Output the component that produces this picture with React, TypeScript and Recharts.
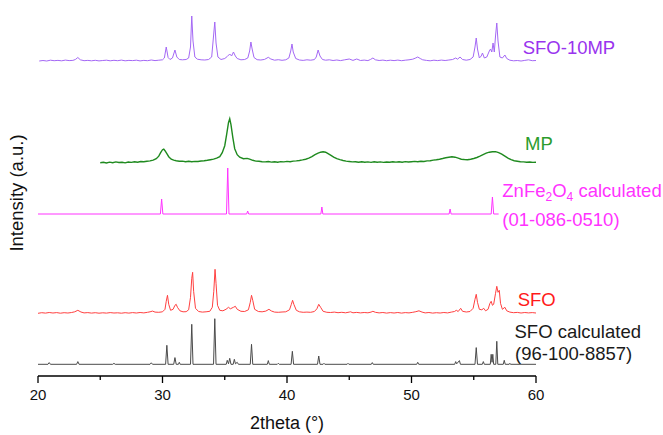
import React from "react";
import { LineChart, Line, XAxis, YAxis } from "recharts";

// 2theta (deg) vs. intensity above each pattern's own baseline (a.u.)
const sfo10mp: [number, number][] = [
  [20.1, 0], [20.4, 0.5], [20.7, 0], [21.0, 0.8], [21.3, 0.3], [21.6, 0.6], [21.9, 0.2], [22.2, 0.9],
  [22.5, 0.4], [22.8, 0.6], [23.0, 1.5], [23.2, 3.5], [23.4, 1.2], [23.7, 0.3], [24.0, 0.6], [24.3, 0.2],
  [24.6, 0.7], [24.9, 0.1], [25.2, 0.5], [25.5, 0.8], [25.8, 0.2], [26.1, 0.7], [26.4, 0.3], [26.7, 0.9],
  [27.0, 0.2], [27.3, 0.6], [27.6, 0.4], [27.9, 0.8], [28.2, 0.1], [28.5, 0.6], [28.8, 0.3], [29.1, 1.0],
  [29.4, 0.4], [29.7, 0.8], [30.0, 1.2], [30.15, 3], [30.3, 14], [30.45, 3.5], [30.6, 1.5], [30.8, 3],
  [31.0, 11], [31.15, 4], [31.35, 1.5], [31.6, 1.2], [31.9, 1.5], [32.1, 3], [32.25, 14], [32.35, 45],
  [32.45, 20], [32.6, 4], [32.8, 1.8], [33.1, 1.2], [33.4, 1.0], [33.7, 1.5], [33.95, 4], [34.1, 25],
  [34.2, 39], [34.3, 18], [34.45, 4], [34.7, 1.5], [35.0, 2.5], [35.2, 4.5], [35.4, 7], [35.55, 5],
  [35.7, 9], [35.85, 5], [36.0, 2.5], [36.3, 1.2], [36.6, 1.5], [36.85, 3], [37.0, 10], [37.1, 19],
  [37.2, 12], [37.35, 3.5], [37.6, 1.3], [37.9, 1.0], [38.2, 1.6], [38.5, 3.7], [38.7, 2], [39.0, 0.8],
  [39.3, 1.3], [39.6, 0.7], [39.9, 1.2], [40.15, 3], [40.3, 10], [40.4, 17], [40.5, 9], [40.7, 2.5],
  [41.0, 1.0], [41.3, 0.6], [41.6, 1.2], [41.9, 0.8], [42.2, 1.4], [42.35, 4], [42.5, 11], [42.65, 5],
  [42.85, 1.5], [43.1, 0.8], [43.4, 1.2], [43.7, 0.5], [44.0, 1.0], [44.3, 0.4], [44.6, 1.1], [45.0, 2],
  [45.3, 0.6], [45.6, 2], [45.9, 0.5], [46.2, 0.9], [46.5, 0.4], [46.7, 1.5], [46.9, 3], [47.1, 1.2],
  [47.4, 0.5], [47.7, 0.9], [48.0, 0.3], [48.3, 0.8], [48.6, 0.4], [48.9, 0.9], [49.2, 0.3], [49.5, 0.8],
  [49.8, 1.2], [50.1, 1.8], [50.3, 2.8], [50.5, 4], [50.7, 2.5], [50.9, 1.2], [51.2, 0.6], [51.5, 0.2],
  [51.8, 0.8], [52.1, 0.4], [52.4, 0.9], [52.7, 0.5], [53.0, 1.0], [53.3, 1.5], [53.55, 3], [53.7, 1.8],
  [53.9, 4], [54.1, 1.5], [54.4, 0.8], [54.7, 1.5], [54.95, 4], [55.1, 14], [55.2, 23], [55.3, 12],
  [55.45, 3], [55.6, 5], [55.7, 8], [55.85, 3], [56.05, 4], [56.25, 10], [56.35, 12], [56.45, 9],
  [56.55, 18], [56.65, 9], [56.75, 25], [56.85, 38], [56.95, 20], [57.1, 4], [57.3, 3], [57.5, 6],
  [57.65, 2.5], [57.9, 0.8], [58.2, 0.2], [58.5, 0.5], [58.8, 0], [59.1, 0.6], [59.4, 1.2], [59.7, 0.3],
  [60.0, 0.5],
];

const mp: [number, number][] = [
  [25.0, 0], [25.25, 0.5], [25.5, -0.3], [25.75, 0.6], [26.0, 0], [26.25, 0.8], [26.5, 0.2], [26.75, 0.5],
  [27.0, -0.2], [27.25, 0.7], [27.5, 0.3], [27.75, 1.0], [28.0, 0.5], [28.25, 1.2], [28.5, 0.9], [28.75, 1.5],
  [29.0, 1.8], [29.25, 2.6], [29.5, 4], [29.7, 6.5], [29.85, 10], [30.0, 13], [30.1, 13.5], [30.2, 12],
  [30.35, 9], [30.5, 6], [30.7, 3.5], [30.9, 2.5], [31.1, 2], [31.35, 1.5], [31.6, 1.6], [31.85, 1.0],
  [32.1, 1.4], [32.35, 0.9], [32.6, 1.3], [32.85, 1.2], [33.1, 1.7], [33.35, 1.9], [33.6, 2.4], [33.85, 3],
  [34.1, 3.6], [34.35, 4.5], [34.6, 6], [34.8, 10], [35.0, 17], [35.15, 28], [35.3, 40], [35.4, 44],
  [35.5, 38], [35.65, 25], [35.8, 14], [36.0, 8], [36.2, 5.5], [36.5, 4], [36.8, 4.3], [37.0, 3.5],
  [37.25, 2.4], [37.5, 1.6], [37.75, 1.5], [38.0, 1.0], [38.25, 0.8], [38.5, 1.2], [38.75, 0.6], [39.0, 1.0],
  [39.25, 0.5], [39.5, 1.1], [39.75, 0.8], [40.0, 1.3], [40.25, 1.0], [40.5, 1.6], [40.75, 1.8], [41.0, 2.2],
  [41.25, 2.8], [41.5, 3.5], [41.75, 4.5], [42.0, 6], [42.25, 8], [42.5, 9.5], [42.7, 10.5], [42.9, 11],
  [43.1, 10.5], [43.3, 9], [43.5, 7.5], [43.75, 5.5], [44.0, 4], [44.25, 3], [44.5, 2.2], [44.75, 1.6],
  [45.0, 1.2], [45.25, 0.8], [45.5, 1.0], [45.75, 0.5], [46.0, 0.9], [46.25, 0.4], [46.5, 0.8], [46.75, 0.3],
  [47.0, 0.9], [47.25, 0.5], [47.5, 0.8], [47.75, 0.3], [48.0, 0.7], [48.25, 0.4], [48.5, 1.0], [48.75, 0.6],
  [49.0, 0.9], [49.25, 0.5], [49.5, 1.1], [49.75, 0.7], [50.0, 1.0], [50.25, 1.3], [50.5, 1.0], [50.75, 1.4],
  [51.0, 1.2], [51.25, 1.8], [51.5, 2.0], [51.75, 2.6], [52.0, 3], [52.25, 3.5], [52.5, 4.2], [52.75, 5],
  [53.0, 5.5], [53.25, 6], [53.5, 5.5], [53.75, 4.5], [54.0, 3.5], [54.25, 3.2], [54.5, 3], [54.75, 3.5],
  [55.0, 4.2], [55.25, 5.2], [55.5, 6.5], [55.75, 8], [56.0, 9.5], [56.25, 10.5], [56.5, 11], [56.75, 11],
  [57.0, 10], [57.25, 8.5], [57.5, 6.5], [57.75, 4.5], [58.0, 3], [58.25, 2], [58.5, 1.5], [58.75, 1.0],
  [59.0, 0.8], [59.25, 0.5], [59.5, 0.7], [59.75, 0.3], [60.0, 0.5],
];

const znfe2o4Calc: [number, number][] = [
  [20.0, 0], [29.83, 0], [29.93, 15], [30.03, 0], [35.14, 0], [35.24, 46], [35.34, 0], [36.76, 0],
  [36.84, 3], [36.92, 0], [42.72, 0], [42.8, 7], [42.88, 0], [53.02, 0], [53.1, 5], [53.18, 0],
  [56.4, 0], [56.5, 17], [56.6, 0], [57.0, 0],
];

const sfo: [number, number][] = [
  [20.0, 0], [20.3, 0.6], [20.6, 0.2], [20.9, 0.8], [21.2, 0.3], [21.5, 0.7], [21.8, 0.1], [22.1, 0.6],
  [22.4, 0.3], [22.7, 0.8], [22.95, 1.5], [23.2, 3], [23.45, 1.3], [23.7, 0.4], [24.0, 0.7], [24.3, 0.2],
  [24.6, 0.6], [24.9, 0.1], [25.2, 0.5], [25.5, 0.2], [25.8, 0.7], [26.1, 0.3], [26.4, 0.5], [26.7, 0.1],
  [27.0, 0.6], [27.3, 0.2], [27.6, 0.7], [27.9, 0.3], [28.2, 0.8], [28.5, 0.4], [28.8, 1.0], [29.0, 1.5],
  [29.2, 2.2], [29.4, 1.2], [29.7, 1.0], [30.0, 1.5], [30.2, 4], [30.3, 12], [30.4, 18], [30.5, 9],
  [30.65, 3], [30.85, 4], [31.0, 8], [31.1, 9], [31.2, 6], [31.4, 2.5], [31.65, 1.5], [31.9, 1.6],
  [32.1, 3.5], [32.25, 16], [32.35, 35], [32.42, 41], [32.5, 22], [32.65, 5], [32.9, 1.8], [33.2, 1.2],
  [33.5, 1.5], [33.8, 2], [34.0, 6], [34.12, 22], [34.22, 44], [34.3, 30], [34.42, 8], [34.6, 3],
  [34.85, 2.5], [35.1, 4], [35.3, 6], [35.45, 4.5], [35.7, 6], [35.85, 7], [36.0, 4], [36.3, 2],
  [36.6, 1.8], [36.9, 3.5], [37.05, 11], [37.15, 18], [37.25, 13], [37.4, 4], [37.7, 1.8], [38.0, 1.5],
  [38.3, 2.2], [38.55, 4], [38.75, 2.3], [39.0, 1.2], [39.3, 1.0], [39.6, 1.3], [39.9, 1.5], [40.2, 3.5],
  [40.35, 9], [40.45, 13], [40.55, 9], [40.75, 3], [41.0, 1.5], [41.3, 1.0], [41.6, 1.2], [41.9, 1.0],
  [42.2, 1.8], [42.4, 4.5], [42.55, 9], [42.7, 6], [42.9, 2], [43.2, 1.0], [43.5, 0.8], [43.8, 1.2],
  [44.1, 0.6], [44.4, 1.0], [44.7, 0.5], [45.0, 1.2], [45.1, 1.5], [45.3, 0.5], [45.6, 0.9], [45.9, 0.4],
  [46.2, 0.8], [46.5, 0.5], [46.75, 1.2], [46.9, 2], [47.1, 1.0], [47.4, 0.4], [47.7, 0.8], [48.0, 0.2],
  [48.3, 0.7], [48.6, 0.3], [48.9, 0.8], [49.2, 0.2], [49.5, 0.7], [49.8, 0.4], [50.1, 1.0], [50.35, 1.6],
  [50.6, 2.5], [50.85, 1.2], [51.1, 0.4], [51.4, 0.8], [51.7, 0.2], [52.0, 0.6], [52.3, 0.3], [52.6, 0.8],
  [52.9, 0.4], [53.2, 1.2], [53.45, 1.8], [53.6, 3], [53.75, 1.8], [53.95, 5], [54.1, 2], [54.4, 1.3],
  [54.7, 1.8], [54.95, 5], [55.1, 14], [55.2, 19], [55.3, 11], [55.45, 4], [55.65, 3.5], [55.8, 5],
  [55.95, 2.5], [56.15, 4], [56.3, 10], [56.4, 12], [56.5, 8], [56.6, 9], [56.75, 20], [56.85, 27],
  [56.95, 21], [57.05, 23], [57.15, 10], [57.3, 4], [57.5, 6], [57.65, 2.5], [57.9, 1.2], [58.2, 0.6],
  [58.5, 0.9], [58.8, 0.3], [59.1, 0.8], [59.4, 0.4], [59.7, 0.7], [60.0, 0.3],
];

const sfoCalc: [number, number][] = [
  [20.0, 0], [20.8, 0], [20.9, 1.7], [21.0, 0], [23.1, 0], [23.2, 2.7], [23.3, 0], [26.0, 0],
  [26.1, 1], [26.2, 0], [29.0, 0], [29.1, 1.5], [29.2, 0], [30.25, 0], [30.35, 19], [30.45, 0],
  [30.9, 0], [31.0, 6.7], [31.1, 0], [31.28, 0], [31.35, 2], [31.42, 0], [32.25, 0], [32.35, 40],
  [32.45, 0], [34.1, 0], [34.2, 45.6], [34.3, 0], [35.12, 0], [35.2, 4], [35.3, 0.5], [35.4, 6],
  [35.5, 0], [35.68, 0], [35.77, 5], [35.86, 0.5], [36.0, 2], [36.1, 0], [37.05, 0], [37.15, 20],
  [37.25, 0], [38.42, 0], [38.5, 3.7], [38.58, 0], [39.22, 0], [39.3, 1], [39.38, 0], [40.33, 0],
  [40.43, 13], [40.53, 0], [42.45, 0], [42.55, 8.3], [42.65, 0], [42.9, 0], [42.97, 1], [43.04, 0],
  [44.83, 0], [44.9, 1], [44.97, 0], [46.77, 0], [46.85, 1.7], [46.93, 0], [50.42, 0], [50.5, 2],
  [50.58, 0], [53.47, 0], [53.55, 2.7], [53.63, 0.5], [53.85, 3.7], [53.93, 0], [55.1, 0], [55.2, 16.7],
  [55.3, 0], [55.69, 0], [55.77, 2.7], [55.85, 0], [56.33, 0], [56.4, 10], [56.47, 2], [56.53, 10],
  [56.6, 0], [56.77, 0], [56.85, 23], [56.93, 0], [57.37, 0], [57.45, 4], [57.53, 0], [57.85, 0],
  [57.9, 1], [57.95, 0], [60.0, 0],
];

const xTicks = [20, 25, 30, 35, 40, 45, 50, 55, 60];

// vertical offsets used to stack the patterns
const OFFSET_SFO_CALC = 11.7;
const OFFSET_SFO = 62.7;
const OFFSET_ZNFE = 162;
const OFFSET_MP = 213.3;
const OFFSET_SFO10MP = 315;

const FONT = "'Liberation Sans', Arial, sans-serif";

const stack = (pts: [number, number][], offset: number) =>
  pts.map(([x, y]) => ({ x, y: y + offset }));

const XTick = (props: any) => {
  const { x, y, payload } = props;
  const axisY = y - 13;
  const major = payload.value % 10 === 0;
  return (
    <g>
      <line x1={x} x2={x} y1={axisY} y2={axisY + (major ? 7 : 4)} stroke="#000" strokeWidth={1.3} />
      {major && (
        <text x={x} y={y} dy="0.71em" textAnchor="middle" fontSize={15} fontFamily={FONT} fill="#111">
          {payload.value}
        </text>
      )}
    </g>
  );
};

export default function App() {
  const series = [
    { key: "sfoCalc", data: stack(sfoCalc, OFFSET_SFO_CALC), color: "#4a4a4a", width: 1 },
    { key: "sfo", data: stack(sfo, OFFSET_SFO), color: "#ff4040", width: 1 },
    { key: "znfe", data: stack(znfe2o4Calc, OFFSET_ZNFE), color: "#ff33ff", width: 1 },
    { key: "mp", data: stack(mp, OFFSET_MP), color: "#1f8a1f", width: 1.4 },
    { key: "sfo10mp", data: stack(sfo10mp, OFFSET_SFO10MP), color: "#a468f5", width: 1 },
  ];

  const labelStyle = { fontFamily: FONT, fontSize: 18.5 };

  return (
    <div style={{ position: "absolute", left: 0, top: 0, width: 663, height: 435, background: "#fff" }}>
      <LineChart width={663} height={435} margin={{ top: 9, right: 127, left: 38, bottom: 29 }}>
        <XAxis
          type="number"
          dataKey="x"
          domain={[20, 60]}
          ticks={xTicks}
          allowDataOverflow
          axisLine={{ stroke: "#000", strokeWidth: 1.3 }}
          tickLine={false}
          tickSize={7}
          tickMargin={6}
          height={30}
          tick={<XTick />}
        />
        <YAxis
          type="number"
          dataKey="y"
          domain={[0, 367]}
          allowDataOverflow
          width={0}
          tick={false}
          tickLine={false}
          axisLine={{ stroke: "#000", strokeWidth: 1.3 }}
        />
        {series.map((s) => (
          <Line
            key={s.key}
            data={s.data}
            dataKey="y"
            type="linear"
            stroke={s.color}
            strokeWidth={s.width}
            dot={false}
            activeDot={false}
            isAnimationActive={false}
          />
        ))}
      </LineChart>
      <svg
        width={663}
        height={435}
        style={{ position: "absolute", left: 0, top: 0, pointerEvents: "none" }}
      >
        <text x={287} y={429} textAnchor="middle" fontSize={18} fontFamily={FONT} fill="#111">
          2theta (°)
        </text>
        <text
          x={22.7}
          y={193}
          transform="rotate(-90, 22.7, 193)"
          textAnchor="middle"
          fontSize={18.5}
          fontFamily={FONT}
          fill="#111"
        >
          Intensity (a.u.)
        </text>
        <text x={522.7} y={54.3} {...labelStyle} fill="#9933ee">SFO-10MP</text>
        <text x={525} y={150} {...labelStyle} fill="#2c9c2c">MP</text>
        <text x={502.3} y={197.3} {...labelStyle} fill="#ff33ff">
          ZnFe<tspan fontSize={12} dy={4}>2</tspan>
          <tspan dy={-4}>O</tspan>
          <tspan fontSize={12} dy={4}>4</tspan>
          <tspan dy={-4}> calculated</tspan>
        </text>
        <text x={502.3} y={225.6} {...labelStyle} fill="#ff33ff">(01-086-0510)</text>
        <text x={517.7} y={306} {...labelStyle} fill="#ff1a1a">SFO</text>
        <text x={514.5} y={337.7} {...labelStyle} fill="#1a1a1a">SFO calculated</text>
        <text x={515} y={360} {...labelStyle} fill="#1a1a1a">(96-100-8857)</text>
      </svg>
    </div>
  );
}
